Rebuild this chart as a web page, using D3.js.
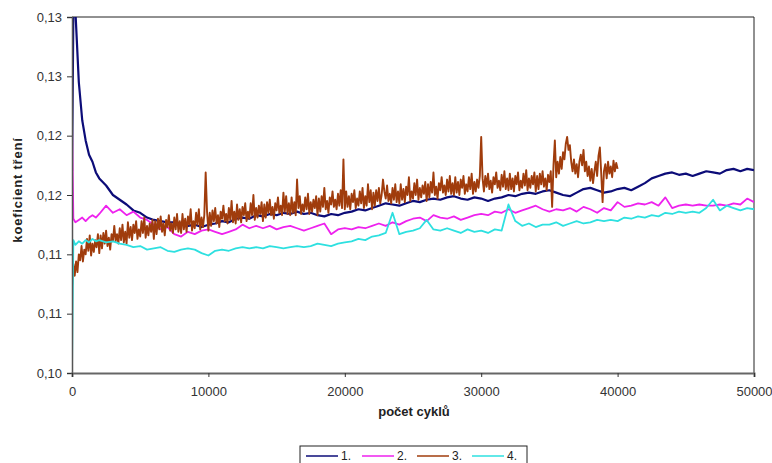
<!DOCTYPE html>
<html>
<head>
<meta charset="utf-8">
<script src="https://cdn.jsdelivr.net/npm/d3@7"></script>
<style>
  html, body { margin: 0; padding: 0; background: #fff; }
  svg { display: block; font-family: "Liberation Sans", Arial, sans-serif; }
</style>
</head>
<body>
<svg id="chart" width="772" height="463"></svg>
<script>
// Cycle positions shared by series 1, 2 and 4
const cycles = [0, 100, 250, 500, 750, 1000, 1250, 1500, 1750, 2000,
  2500, 3000, 3500, 4000, 4500, 5000, 5500, 6000, 6500, 7000, 7500, 8000, 8500, 9000, 9500,
  10000, 10500, 11000, 11500, 12000, 12500, 13000, 13500, 14000, 14500, 15000, 15500, 16000, 16500,
  17000, 17500, 18000, 18500, 19000, 19500, 20000, 20500, 21000, 21500, 22000, 22500, 23000, 23500,
  24000, 24500, 25000, 25500, 26000, 26500, 27000, 27500, 28000, 28500, 29000, 29500, 30000, 30500,
  31000, 31500, 32000, 32500, 33000, 33500, 34000, 34500, 35000, 35500, 36000, 36500, 37000, 37500,
  38000, 38500, 39000, 39500, 40000, 40500, 41000, 41500, 42000, 42500, 43000, 43500, 44000, 44500,
  45000, 45500, 46000, 46500, 47000, 47500, 48000, 48500, 49000, 49500, 50000];

const series1 = [0.1170, 0.1305, 0.1305, 0.1245, 0.1213, 0.1196, 0.1184, 0.1178, 0.1169, 0.1164,
  0.1158, 0.1150, 0.1146, 0.1142, 0.1137, 0.1135, 0.1131, 0.1129, 0.1128, 0.1127, 0.1127, 0.1126, 0.1124, 0.1125, 0.1123,
  0.1125, 0.1126, 0.1128, 0.1127, 0.1130, 0.1131, 0.1130, 0.1133, 0.1132, 0.1134, 0.1133, 0.1135, 0.1134, 0.1136,
  0.1134, 0.1135, 0.1133, 0.1132, 0.1134, 0.1133, 0.1135, 0.1136, 0.1138, 0.1137, 0.1139, 0.1141, 0.1143, 0.1142,
  0.1141, 0.1143, 0.1145, 0.1144, 0.1146, 0.1147, 0.1146, 0.1148, 0.1149, 0.1147, 0.1146, 0.1148, 0.1147, 0.1145,
  0.1147, 0.1148, 0.1150, 0.1149, 0.1151, 0.1152, 0.1151, 0.1153, 0.1154, 0.1152, 0.1150, 0.1149, 0.1152, 0.1155,
  0.1156, 0.1154, 0.1152, 0.1153, 0.1155, 0.1156, 0.1154, 0.1157, 0.1160, 0.1164, 0.1166, 0.1168, 0.1169, 0.1167,
  0.1168, 0.1166, 0.1168, 0.1170, 0.1169, 0.1168, 0.1171, 0.1172, 0.1170, 0.1172, 0.1171];

const series2 = [0.1213, 0.1130, 0.1127, 0.1129, 0.1131, 0.1128, 0.1131, 0.1133, 0.1131, 0.1134,
  0.1141, 0.1135, 0.1138, 0.1133, 0.1136, 0.1131, 0.1129, 0.1125, 0.1121, 0.1123, 0.1117, 0.1115, 0.1119, 0.1117, 0.1120,
  0.1121, 0.1119, 0.1117, 0.1119, 0.1121, 0.1125, 0.1122, 0.1124, 0.1122, 0.1124, 0.1121, 0.1123, 0.1124, 0.1122,
  0.1120, 0.1122, 0.1124, 0.1126, 0.1117, 0.1121, 0.1122, 0.1121, 0.1123, 0.1122, 0.1124, 0.1126, 0.1124, 0.1127,
  0.1125, 0.1128, 0.1130, 0.1131, 0.1128, 0.1133, 0.1131, 0.1130, 0.1132, 0.1129, 0.1131, 0.1133, 0.1134, 0.1133,
  0.1136, 0.1135, 0.1138, 0.1135, 0.1137, 0.1139, 0.1141, 0.1138, 0.1136, 0.1138, 0.1137, 0.1139, 0.1136, 0.1140,
  0.1138, 0.1135, 0.1139, 0.1137, 0.1144, 0.1140, 0.1141, 0.1143, 0.1142, 0.1144, 0.1141, 0.1148, 0.1139, 0.1141,
  0.1142, 0.1141, 0.1142, 0.1141, 0.1141, 0.1142, 0.1141, 0.1143, 0.1142, 0.1147, 0.1144];

const series4 = [0.1000, 0.1112, 0.1108, 0.1111, 0.1109, 0.1112, 0.1110, 0.1113, 0.1111, 0.1112,
  0.1110, 0.1111, 0.1109, 0.1108, 0.1106, 0.1107, 0.1104, 0.1105, 0.1106, 0.1103, 0.1102, 0.1104, 0.1105, 0.1104, 0.1101,
  0.1099, 0.1103, 0.1104, 0.1103, 0.1105, 0.1106, 0.1105, 0.1106, 0.1105, 0.1107, 0.1106, 0.1105, 0.1106, 0.1107,
  0.1106, 0.1107, 0.1109, 0.1108, 0.1107, 0.1109, 0.1110, 0.1111, 0.1113, 0.1112, 0.1115, 0.1116, 0.1118, 0.1135,
  0.1117, 0.1119, 0.1120, 0.1122, 0.1129, 0.1121, 0.1120, 0.1122, 0.1120, 0.1118, 0.1121, 0.1119, 0.1120, 0.1118,
  0.1121, 0.1120, 0.1142, 0.1128, 0.1124, 0.1126, 0.1123, 0.1125, 0.1125, 0.1127, 0.1124, 0.1126, 0.1128, 0.1126,
  0.1127, 0.1129, 0.1128, 0.1129, 0.1128, 0.1131, 0.1130, 0.1132, 0.1131, 0.1133, 0.1132, 0.1135, 0.1134, 0.1136,
  0.1135, 0.1136, 0.1135, 0.1139, 0.1146, 0.1137, 0.1141, 0.1139, 0.1137, 0.1139, 0.1138];

// Series 3 is logged every 100 cycles and stops at 40000 cycles
const cycles3 = d3.range(0, 40001, 100);
const series3 = [0.1072,
  0.1092, 0.1082, 0.1094, 0.1085, 0.1100, 0.1095, 0.1107, 0.1094, 0.1104, 0.1100,
  0.1113, 0.1103, 0.1116, 0.1099, 0.1109, 0.1102, 0.1112, 0.1106, 0.1117, 0.1101,
  0.1116, 0.1105, 0.1118, 0.1109, 0.1120, 0.1107, 0.1114, 0.1104, 0.1117, 0.1111,
  0.1124, 0.1111, 0.1117, 0.1109, 0.1122, 0.1112, 0.1125, 0.1110, 0.1119, 0.1109,
  0.1127, 0.1114, 0.1123, 0.1112, 0.1125, 0.1118, 0.1128, 0.1113, 0.1121, 0.1115,
  0.1128, 0.1118, 0.1131, 0.1114, 0.1124, 0.1116, 0.1126, 0.1119, 0.1129, 0.1113,
  0.1128, 0.1117, 0.1130, 0.1121, 0.1132, 0.1119, 0.1126, 0.1116, 0.1129, 0.1123,
  0.1133, 0.1120, 0.1126, 0.1118, 0.1131, 0.1121, 0.1134, 0.1119, 0.1128, 0.1118,
  0.1134, 0.1121, 0.1130, 0.1119, 0.1132, 0.1125, 0.1138, 0.1120, 0.1128, 0.1122,
  0.1135, 0.1125, 0.1138, 0.1121, 0.1131, 0.1123, 0.1133, 0.1169, 0.1136, 0.1120,
  0.1135, 0.1124, 0.1137, 0.1128, 0.1139, 0.1126, 0.1133, 0.1123, 0.1136, 0.1130,
  0.1141, 0.1128, 0.1134, 0.1126, 0.1139, 0.1129, 0.1145, 0.1127, 0.1136, 0.1126,
  0.1142, 0.1129, 0.1138, 0.1127, 0.1140, 0.1133, 0.1143, 0.1128, 0.1136, 0.1130,
  0.1143, 0.1133, 0.1150, 0.1129, 0.1139, 0.1131, 0.1141, 0.1134, 0.1144, 0.1128,
  0.1142, 0.1131, 0.1144, 0.1135, 0.1146, 0.1133, 0.1140, 0.1130, 0.1143, 0.1137,
  0.1148, 0.1135, 0.1141, 0.1133, 0.1152, 0.1136, 0.1149, 0.1134, 0.1143, 0.1133,
  0.1148, 0.1135, 0.1144, 0.1133, 0.1163, 0.1139, 0.1149, 0.1134, 0.1142, 0.1136,
  0.1148, 0.1138, 0.1151, 0.1134, 0.1144, 0.1136, 0.1146, 0.1139, 0.1149, 0.1133,
  0.1147, 0.1136, 0.1149, 0.1140, 0.1156, 0.1138, 0.1145, 0.1135, 0.1148, 0.1142,
  0.1153, 0.1140, 0.1146, 0.1138, 0.1151, 0.1141, 0.1154, 0.1139, 0.1180, 0.1138,
  0.1153, 0.1140, 0.1149, 0.1138, 0.1151, 0.1144, 0.1154, 0.1139, 0.1147, 0.1141,
  0.1153, 0.1143, 0.1156, 0.1139, 0.1149, 0.1141, 0.1159, 0.1144, 0.1154, 0.1138,
  0.1152, 0.1141, 0.1154, 0.1145, 0.1156, 0.1143, 0.1150, 0.1163, 0.1153, 0.1147,
  0.1158, 0.1145, 0.1151, 0.1143, 0.1156, 0.1146, 0.1159, 0.1144, 0.1153, 0.1143,
  0.1159, 0.1146, 0.1155, 0.1144, 0.1157, 0.1150, 0.1165, 0.1145, 0.1153, 0.1147,
  0.1160, 0.1150, 0.1163, 0.1146, 0.1156, 0.1148, 0.1158, 0.1151, 0.1161, 0.1145,
  0.1159, 0.1148, 0.1161, 0.1152, 0.1169, 0.1150, 0.1157, 0.1147, 0.1160, 0.1154,
  0.1165, 0.1152, 0.1158, 0.1150, 0.1163, 0.1153, 0.1166, 0.1151, 0.1160, 0.1150,
  0.1165, 0.1152, 0.1161, 0.1150, 0.1163, 0.1156, 0.1166, 0.1151, 0.1159, 0.1153,
  0.1165, 0.1155, 0.1168, 0.1151, 0.1161, 0.1153, 0.1163, 0.1156, 0.1166, 0.1199,
  0.1164, 0.1153, 0.1166, 0.1157, 0.1168, 0.1155, 0.1162, 0.1152, 0.1165, 0.1159,
  0.1169, 0.1156, 0.1162, 0.1154, 0.1167, 0.1157, 0.1170, 0.1155, 0.1164, 0.1154,
  0.1168, 0.1155, 0.1164, 0.1153, 0.1166, 0.1159, 0.1169, 0.1154, 0.1162, 0.1156,
  0.1168, 0.1158, 0.1171, 0.1154, 0.1164, 0.1156, 0.1166, 0.1159, 0.1169, 0.1153,
  0.1166, 0.1155, 0.1168, 0.1159, 0.1170, 0.1157, 0.1164, 0.1154, 0.1167, 0.1161,
  0.1170, 0.1140, 0.1175, 0.1196, 0.1165, 0.1178, 0.1168, 0.1182, 0.1172, 0.1186,
  0.1180, 0.1193, 0.1199, 0.1188, 0.1192, 0.1178, 0.1170, 0.1180, 0.1168, 0.1176,
  0.1165, 0.1178, 0.1184, 0.1175, 0.1188, 0.1170, 0.1178, 0.1166, 0.1174, 0.1162,
  0.1172, 0.1160, 0.1170, 0.1178, 0.1166, 0.1183, 0.1190, 0.1168, 0.1144, 0.1170,
  0.1176, 0.1164, 0.1178, 0.1168, 0.1174, 0.1165, 0.1179, 0.1170, 0.1177, 0.1172];

const seriesNames = ["1.", "2.", "3.", "4."];
const seriesColors = ["#0c0c78", "#ee22ee", "#a03c0c", "#2ee0e0"];
const seriesWidths = [2.2, 1.8, 1.9, 1.8];

const yTickValues = [0.100, 0.105, 0.110, 0.115, 0.120, 0.125, 0.130];
const yTickLabels = ["0,10", "0,11", "0,11", "0,12", "0,12", "0,13", "0,13"];
const xTickValues = [0, 10000, 20000, 30000, 40000, 50000];

const xTitle = "počet cyklů";
const yTitle = "koeficient tření";

// Layout
const svg = d3.select("#chart");
const plot = { left: 72, right: 754, top: 17, bottom: 373 };

const x = d3.scaleLinear().domain([0, 50000]).range([plot.left, plot.right]);
const y = d3.scaleLinear().domain([0.100, 0.130]).range([plot.bottom, plot.top]);

svg.append("defs").append("clipPath").attr("id", "plotClip")
  .append("rect")
  .attr("x", plot.left).attr("y", plot.top)
  .attr("width", plot.right - plot.left).attr("height", plot.bottom - plot.top);

// Plot-area frame (top and right edges)
svg.append("path")
  .attr("d", `M${plot.left},${plot.top}H${plot.right}V${plot.bottom}`)
  .attr("fill", "none").attr("stroke", "#222").attr("stroke-width", 1);

// Lines, drawn in series order
const data = [
  { xs: cycles, ys: series1 },
  { xs: cycles, ys: series2 },
  { xs: cycles3, ys: series3 },
  { xs: cycles, ys: series4 }
];
const line = d3.line().x(d => x(d[0])).y(d => y(d[1]));
const lines = svg.append("g").attr("clip-path", "url(#plotClip)");
data.forEach((s, i) => {
  lines.append("path")
    .datum(s.xs.map((c, k) => [c, s.ys[k]]))
    .attr("d", line)
    .attr("fill", "none")
    .attr("stroke", seriesColors[i])
    .attr("stroke-width", seriesWidths[i])
    .attr("stroke-linejoin", "round");
});

const fontFamily = "Liberation Sans, Arial, sans-serif";

// Y axis
const yAxis = svg.append("g")
  .attr("transform", `translate(${plot.left},0)`)
  .call(d3.axisLeft(y).tickValues(yTickValues)
    .tickFormat((d, i) => yTickLabels[i]).tickSize(5).tickPadding(5));
yAxis.select(".domain").attr("stroke", "#555").attr("stroke-width", 1.5);
yAxis.selectAll(".tick line").attr("stroke", "#333");
yAxis.selectAll("text").attr("font-size", 13).attr("fill", "#333")
  .attr("font-family", fontFamily);

// X axis
const xAxis = svg.append("g")
  .attr("transform", `translate(0,${plot.bottom})`)
  .call(d3.axisBottom(x).tickValues(xTickValues).tickFormat(d3.format("d"))
    .tickSize(4).tickPadding(10));
xAxis.select(".domain").attr("stroke", "#666").attr("stroke-width", 2);
xAxis.selectAll(".tick line").attr("stroke", "#333");
xAxis.selectAll("text").attr("font-size", 13).attr("fill", "#333")
  .attr("font-family", fontFamily);

// Axis titles
svg.append("text")
  .attr("x", 414).attr("y", 416)
  .attr("text-anchor", "middle").attr("font-size", 13).attr("font-weight", "bold")
  .attr("fill", "#222").text(xTitle);

svg.append("text")
  .attr("transform", `translate(22,190) rotate(-90)`)
  .attr("text-anchor", "middle").attr("font-size", 13).attr("font-weight", "bold")
  .attr("letter-spacing", 0.8)
  .attr("fill", "#222").text(yTitle);

// Legend (its box runs past the bottom edge of the page)
const legend = svg.append("g").attr("transform", "translate(300,446)");
legend.append("rect")
  .attr("x", 0).attr("y", 0).attr("width", 227).attr("height", 26)
  .attr("fill", "#fff").attr("stroke", "#222").attr("stroke-width", 1);
const itemX = [6, 62, 117, 172];
seriesNames.forEach((name, i) => {
  const g = legend.append("g").attr("transform", `translate(${itemX[i]},10)`);
  g.append("line").attr("x1", 0).attr("x2", 32).attr("y1", 0).attr("y2", 0)
    .attr("stroke", seriesColors[i]).attr("stroke-width", 1.5);
  g.append("text").attr("x", 35).attr("y", 4).attr("font-size", 12)
    .attr("font-family", fontFamily)
    .attr("fill", "#222").text(name);
});
</script>
</body>
</html>
